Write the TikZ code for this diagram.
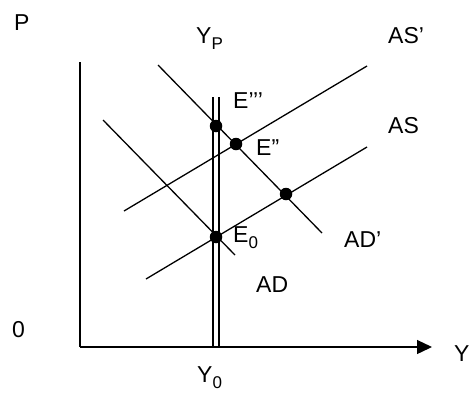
\documentclass[tikz,border=0pt]{standalone}
\usepackage{fontspec}
\setmainfont{Liberation Sans}
\usetikzlibrary{arrows.meta}
\tikzset{
  lbl/.style={anchor=base west,inner sep=0pt,font=\fontsize{23}{26}\selectfont},
  crv/.style={line width=1.3pt},
  eqpt/.style={circle,fill=black,inner sep=0pt,minimum size=12.5pt},
  ax/.style={line width=1.3pt},
}
\newcommand{\lowtxt}[1]{\raisebox{-0.5ex}{\fontsize{17}{20}\selectfont #1}}

\begin{document}
\begin{tikzpicture}[x=1pt,y=-1pt]
\useasboundingbox (0,0) rectangle (470,392);
% axes
\coordinate (ytop) at (80,62);
\coordinate (orig) at (80,347);
\coordinate (xend) at (432,347);
\draw[ax] (ytop) -- (orig);
\draw[ax,-{Triangle[length=15pt,width=14pt]}] (orig) -- (xend);
% potential output, double line
\coordinate (ypa) at (213,97);
\coordinate (ypb) at (213,347);
\coordinate (ypc) at (219,97);
\coordinate (ypd) at (219,347);
\draw[crv] (ypa) -- (ypb);
\draw[crv] (ypc) -- (ypd);
% demand and supply curves
\coordinate (ad1) at (103,120);
\coordinate (ad2) at (235,255);
\coordinate (adp1) at (158,65);
\coordinate (adp2) at (322,233);
\coordinate (as1) at (146,279);
\coordinate (as2) at (367,147);
\coordinate (asp1) at (124,211);
\coordinate (asp2) at (367,66);
\draw[crv] (ad1) -- (ad2);
\draw[crv] (adp1) -- (adp2);
\draw[crv] (as1) -- (as2);
\draw[crv] (asp1) -- (asp2);
% equilibria
\node[eqpt] (e0) at (216,237) {};
\node[eqpt] (e3) at (216,126) {};
\node[eqpt] (e2) at (236,144) {};
\node[eqpt] (e1) at (286,194) {};
% labels
\node[lbl] (pl) at (14,30) {P};
\node[lbl] (zl) at (12,337) {0};
\node[lbl] (yl) at (454,361) {Y};
\node[lbl] (ypl) at (196,43) {Y\lowtxt{P}};
\node[lbl] (y0l) at (197,382) {Y\lowtxt{0}};
\node[lbl] (aspl) at (388,43) {AS’};
\node[lbl] (asl) at (388,133) {AS};
\node[lbl] (e3l) at (233,108) {E’’’};
\node[lbl] (e2l) at (256,155) {E”};
\node[lbl] (e0l) at (233,242) {E\lowtxt{0}};
\node[lbl] (adpl) at (344,247) {AD’};
\node[lbl] (adl) at (256,292) {AD};
\end{tikzpicture}
\end{document}
